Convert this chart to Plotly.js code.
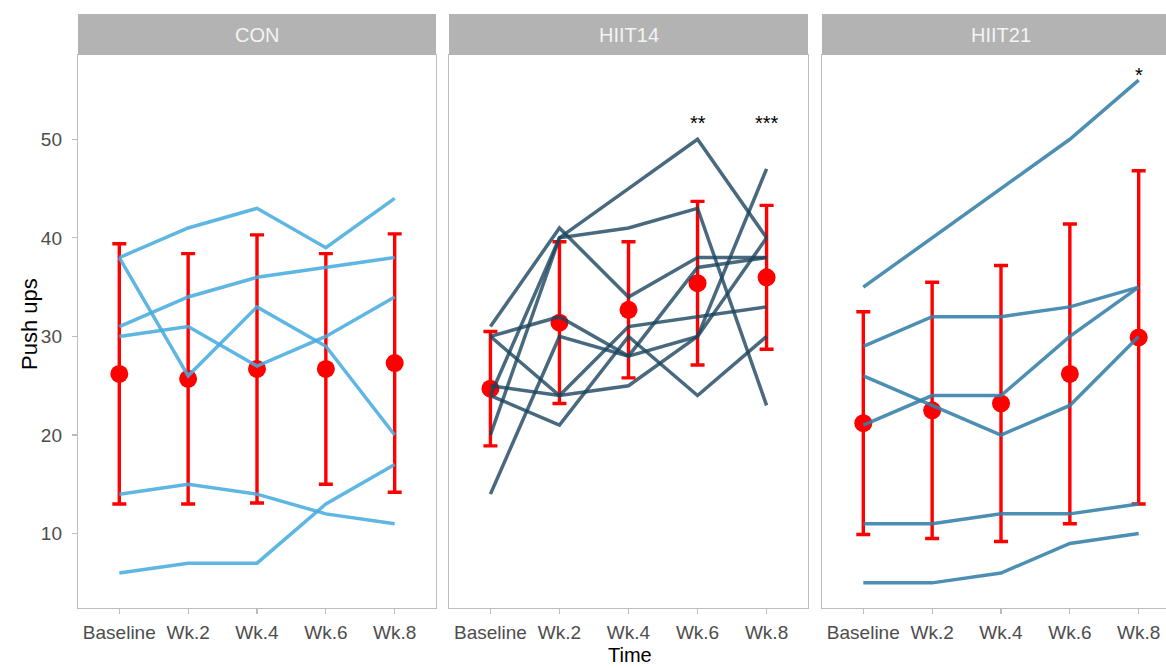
<!DOCTYPE html>
<html>
<head>
<meta charset="utf-8">
<script src="https://cdn.plot.ly/plotly-3.0.1.min.js"></script>
<style>
html,body{margin:0;padding:0;overflow:hidden;background:#fff}
#chart{width:1180px;height:668px}
</style>
</head>
<body>
<div id="chart"></div>
<script>
// ---- data ----
const categories = ['Baseline', 'Wk.2', 'Wk.4', 'Wk.6', 'Wk.8'];
const groups = ['CON', 'HIIT14', 'HIIT21'];

// CON individuals
const con_s1 = [38, 41, 43, 39, 44];
const con_s2 = [38, 26, 33, 29, 20];
const con_s3 = [30, 31, 27, 30, 34];
const con_s4 = [31, 34, 36, 37, 38];
const con_s5 = [14, 15, 14, 12, 11];
const con_s6 = [6, 7, 7, 13, 17];
const con_mean = [26.2, 25.7, 26.7, 26.7, 27.3];
const con_sd = [13.2, 12.7, 13.6, 11.7, 13.1];

// HIIT14 individuals
const h14_s1 = [31, 41, 34, 38, 38];
const h14_s2 = [30, 32, 28, 30, 40];
const h14_s3 = [30, 24, 31, 32, 33];
const h14_s4 = [25, 24, 25, 30, 47];
const h14_s5 = [24, 21, 30, 24, 30];
const h14_s6 = [20, 40, 41, 43, 23];
const h14_s7 = [14, 30, 28, 37, 38];
const h14_s8 = [24, 40, 45, 50, 40];
const h14_mean = [24.7, 31.4, 32.7, 35.4, 36.0];
const h14_sd = [5.8, 8.2, 6.9, 8.3, 7.3];

// HIIT21 individuals
const h21_s1 = [35, 40, 45, 50, 56];
const h21_s2 = [29, 32, 32, 33, 35];
const h21_s3 = [21, 24, 24, 30, 35];
const h21_s4 = [26, 23, 20, 23, 30];
const h21_s5 = [11, 11, 12, 12, 13];
const h21_s6 = [5, 5, 6, 9, 10];
const h21_mean = [21.2, 22.5, 23.2, 26.2, 29.9];
const h21_sd = [11.3, 13.0, 14.0, 15.2, 16.9];

// significance marks
const star_text = ['**', '***', '*'];
const star_group = [1, 1, 2];
const star_cat = ['Wk.6', 'Wk.8', 'Wk.8'];
const star_y = [51.7, 51.7, 56.5];

const yTicks = [10, 20, 30, 40, 50];

// ---- layout helpers (pixel geometry) ----
const W = 1180, H = 668;
const panelPx = [[78, 436], [449, 808], [822, 1180]];
const topPx = 55, botPx = 608, stripTop = 14;
const px = p => p / W;
const py = p => 1 - p / H;

const lineColors = ['rgba(72,172,222,0.88)', 'rgba(26,68,94,0.8)', 'rgba(52,128,168,0.88)'];
const subjects = [
  [con_s1, con_s2, con_s3, con_s4, con_s5, con_s6],
  [h14_s1, h14_s2, h14_s3, h14_s4, h14_s5, h14_s6, h14_s7, h14_s8],
  [h21_s1, h21_s2, h21_s3, h21_s4, h21_s5, h21_s6]
];
const means = [con_mean, h14_mean, h21_mean];
const sds = [con_sd, h14_sd, h21_sd];

const font = 'Liberation Sans, Arial, sans-serif';
const traces = [];
const layout = {
  width: W, height: H,
  margin: {l: 0, r: 0, t: 0, b: 0},
  paper_bgcolor: '#fff', plot_bgcolor: '#fff',
  showlegend: false,
  shapes: [], annotations: []
};

groups.forEach((g, i) => {
  const sfx = i === 0 ? '' : String(i + 1);
  const xa = 'x' + sfx, ya = 'y' + sfx;
  traces.push({
    type: 'scatter', mode: 'markers', x: categories, y: means[i],
    xaxis: xa, yaxis: ya,
    marker: {color: '#ff0000', size: 18},
    error_y: {type: 'data', array: sds[i], visible: true, color: '#ff0000', thickness: 3.4, width: 7},
    hoverinfo: 'skip'
  });
  subjects[i].forEach(s => {
    traces.push({
      type: 'scatter', mode: 'lines', x: categories, y: s,
      xaxis: xa, yaxis: ya,
      line: {color: lineColors[i], width: 3.5},
      hoverinfo: 'skip'
    });
  });
  layout['xaxis' + sfx] = {
    type: 'category', categoryorder: 'array', categoryarray: categories,
    range: [-0.6, 4.6],
    domain: [px(panelPx[i][0]), px(panelPx[i][1])],
    anchor: ya,
    showline: true, mirror: true, linecolor: '#bdbdbd', linewidth: 1.2,
    ticks: 'outside', ticklen: 5, tickcolor: '#bdbdbd', tickwidth: 1.2,
    ticklabelstandoff: 2,
    tickfont: {family: font, size: 19, color: '#4d4d4d'},
    showgrid: false, zeroline: false, fixedrange: true
  };
  layout['yaxis' + sfx] = {
    range: [2.45, 58.55],
    domain: [py(botPx), py(topPx)],
    anchor: xa,
    tickvals: yTicks, ticktext: yTicks.map(String),
    showline: true, mirror: true, linecolor: '#bdbdbd', linewidth: 1.2,
    ticks: i === 0 ? 'outside' : '', ticklen: 5, tickcolor: '#bdbdbd', tickwidth: 1.2,
    showticklabels: i === 0,
    ticklabelstandoff: 6,
    tickfont: {family: font, size: 19, color: '#4d4d4d'},
    showgrid: false, zeroline: false, fixedrange: true
  };
  // strip
  layout.shapes.push({
    type: 'rect', xref: 'paper', yref: 'paper',
    x0: px(panelPx[i][0]), x1: px(panelPx[i][1]), y0: py(topPx), y1: py(stripTop),
    fillcolor: '#b3b3b3', line: {width: 0}, layer: 'above'
  });
  layout.annotations.push({
    xref: 'paper', yref: 'paper',
    x: px((panelPx[i][0] + panelPx[i][1]) / 2), y: py((topPx + stripTop) / 2),
    text: g, showarrow: false, xanchor: 'center', yanchor: 'middle',
    font: {family: font, size: 20, color: '#f4f4f4'}
  });
});

star_text.forEach((t, k) => {
  const i = star_group[k];
  const sfx = i === 0 ? '' : String(i + 1);
  layout.annotations.push({
    xref: 'x' + sfx, yref: 'y' + sfx, x: star_cat[k], y: star_y[k],
    text: t, showarrow: false, xanchor: 'center', yanchor: 'middle',
    font: {family: font, size: 20, color: '#000'}
  });
});

layout.annotations.push({
  xref: 'paper', yref: 'paper', x: px(30), y: py(324),
  text: 'Push ups', textangle: -90, showarrow: false,
  xanchor: 'center', yanchor: 'middle',
  font: {family: font, size: 22, color: '#000'}
});
layout.annotations.push({
  xref: 'paper', yref: 'paper', x: px(630), y: py(668),
  text: 'Time', showarrow: false,
  xanchor: 'center', yanchor: 'bottom', yshift: 0,
  font: {family: font, size: 20, color: '#000'}
});

Plotly.newPlot('chart', traces, layout, {staticPlot: true, displayModeBar: false});
</script>
</body>
</html>
